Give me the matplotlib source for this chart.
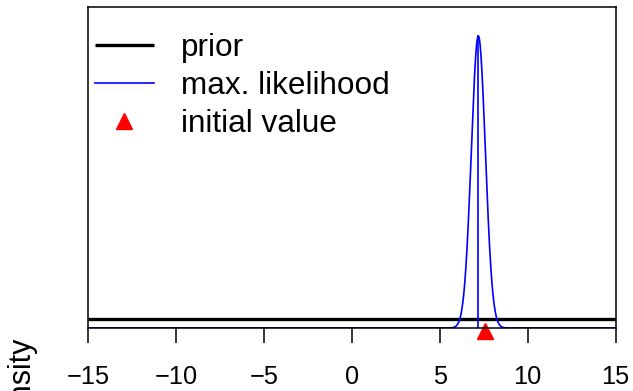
import matplotlib.pyplot as plt
import numpy as np

# values
mle = 7.2           # max. likelihood estimate
mle_sd = 0.4        # its spread
init_value = 7.58   # initial value
prior_density = 0.030
x_range = [-15, 15]
x_ticks = [-15, -10, -5, 0, 5, 10, 15]

plt.rcParams['font.family'] = ['Liberation Sans', 'DejaVu Sans']

W, H = 633, 391
fig = plt.figure(figsize=(W / 100, H / 100), dpi=100)
left, right, top, bottom = 88, 615.5, 7, 328
ax = fig.add_axes([left / W, 1 - bottom / H, (right - left) / W, (bottom - top) / H])

xs = np.linspace(x_range[0], x_range[1], 3001)
dens = np.exp(-0.5 * ((xs - mle) / mle_sd) ** 2) / (mle_sd * np.sqrt(2 * np.pi))
peak = dens.max()

ax.plot(x_range, [prior_density, prior_density], color='black', lw=2.4,
        label='prior', solid_capstyle='butt')
ax.plot(xs, dens, color='blue', lw=1.2, label='max. likelihood')
ax.plot([mle, mle], [0, peak], color='blue', lw=1.2)
ax.plot([init_value], [-0.008], marker='^', color='red', ms=11.5, ls='none',
        transform=ax.get_xaxis_transform(), clip_on=False, zorder=1.5,
        label='initial value')

ax.set_xlim(x_range)
ax.set_ylim(0, peak / 0.91)
ax.set_xticks(x_ticks)
ax.set_xticklabels(['\u2212' + str(-t) if t < 0 else str(t) for t in x_ticks])
ax.set_yticks([])
ax.tick_params(axis='x', length=10.5, width=1.1, labelsize=18.3, pad=16.5)
for s in ax.spines.values():
    s.set_linewidth(1.1)
    s.set_zorder(3)

leg = ax.legend(loc='upper left', bbox_to_anchor=(7 / 527.5, 1 - 26 / 321),
                frameon=False, fontsize=22.7, handlelength=1.87,
                handletextpad=0.86, labelspacing=0.26, borderaxespad=0,
                borderpad=0)

fig.text(22 / W, 1 - 337 / H, 'density', rotation=90, ha='center',
         va='top', fontsize=22)

fig.savefig('out.png', dpi=100)
